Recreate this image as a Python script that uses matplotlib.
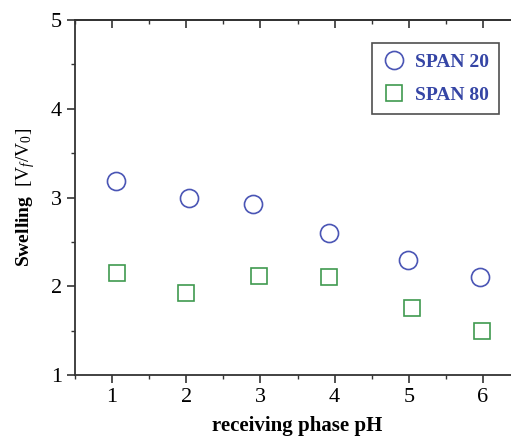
import matplotlib
matplotlib.use("Agg")
import matplotlib.pyplot as plt
from matplotlib.ticker import MultipleLocator

plt.rcParams['font.family'] = ['Liberation Serif', 'DejaVu Serif']
plt.rcParams['mathtext.fontset'] = 'custom'
plt.rcParams['mathtext.rm'] = 'Liberation Serif'
plt.rcParams['mathtext.it'] = 'Liberation Serif:italic'
plt.rcParams['mathtext.bf'] = 'Liberation Serif:bold'

# data
ph_span20 = [1.05, 2.03, 2.90, 3.92, 4.99, 5.96]
sw_span20 = [3.19, 3.00, 2.93, 2.60, 2.30, 2.10]
ph_span80 = [1.06, 1.99, 2.98, 3.93, 5.04, 5.98]
sw_span80 = [2.15, 1.92, 2.12, 2.10, 1.75, 1.50]

blue = '#4a55b5'
green = '#3f9a4f'
axcol = '#333333'

fig = plt.figure(figsize=(5.11, 4.38), dpi=100)
ax = fig.add_axes([0.1468, 0.1438, 0.871, 0.8105])

ax.plot(ph_span20, sw_span20, 'o', ms=13, mfc='none', mec=blue, mew=1.2, label='SPAN 20')
ax.plot(ph_span80, sw_span80, 's', ms=11.5, mfc='none', mec=green, mew=1.2, label='SPAN 80')

ax.set_xlim(0.5, 6.5)
ax.set_ylim(1, 5)
ax.xaxis.set_major_locator(MultipleLocator(1))
ax.xaxis.set_minor_locator(MultipleLocator(0.5))
ax.yaxis.set_major_locator(MultipleLocator(1))
ax.yaxis.set_minor_locator(MultipleLocator(0.5))
ax.tick_params(which='major', direction='out', length=6, width=1.2, labelsize=16, color=axcol)
ax.tick_params(which='minor', direction='out', length=3, width=1.0, color=axcol)

ax.spines['right'].set_visible(False)
for s in ['left', 'bottom', 'top']:
    ax.spines[s].set_linewidth(1.3)
    ax.spines[s].set_color(axcol)

# top axis: ticks pointing down, no labels
top = ax.secondary_xaxis('top')
top.xaxis.set_major_locator(MultipleLocator(1))
top.xaxis.set_minor_locator(MultipleLocator(0.5))
top.tick_params(which='major', direction='in', length=6, width=1.2, labeltop=False, color=axcol)
top.tick_params(which='minor', direction='in', length=3, width=1.0, color=axcol)
top.spines['top'].set_linewidth(1.3)
top.spines['top'].set_color(axcol)

ax.set_xlabel('receiving phase pH', fontsize=15, fontweight='bold', labelpad=6)
ax.set_ylabel(r'$\mathbf{Swelling}$  [V$_f$/V$_0$]', fontsize=14, labelpad=10)

leg = ax.legend(loc='upper right', bbox_to_anchor=(0.952, 0.934), frameon=True, fancybox=False,
                edgecolor='#222222', fontsize=14, handletextpad=0.5, labelspacing=0.8,
                borderpad=0.5, handlelength=1.2, borderaxespad=0)
leg.get_frame().set_linewidth(1.2)
for t in leg.get_texts():
    t.set_color('#3545a5')
    t.set_fontweight('bold')

fig.savefig('out.png', dpi=100)
